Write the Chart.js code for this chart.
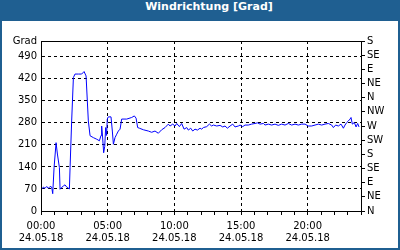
<!DOCTYPE html>
<html lang="de">
<head>
<meta charset="UTF-8">
<title>Windrichtung</title>
<script src="https://cdn.jsdelivr.net/npm/chart.js"></script>
<style>
    html, body { margin: 0; padding: 0; background: #fff; }
    .frame {
        position: relative;
        width: 400px;
        height: 250px;
        background: #1f5f91;
        box-sizing: border-box;
    }
    .title {
        height: 21px;
        line-height: 20px;
        color: #fff;
        font: bold 11px "DejaVu Sans", sans-serif;
        text-align: center;
        padding-left: 18px;
        box-sizing: border-box;
    }
    .panel {
        position: absolute;
        left: 2px;
        top: 21px;
        width: 396px;
        height: 227px;
        background: #fff;
    }
</style>
</head>
<body>
<div class="frame">
    <div class="title">Windrichtung [Grad]</div>
    <div class="panel"><canvas id="chart" width="396" height="227"></canvas></div>
</div>
<script>
    // Stunden seit 00:00 am 24.05.18
    const times = [0.05, 0.18, 0.3, 0.43, 0.55, 0.68, 0.8, 0.88, 0.98, 1.13, 1.23, 1.38, 1.43, 1.68, 1.8, 1.93,
        2.13, 2.18, 2.3, 2.43, 2.55, 2.8, 3.05, 3.23, 3.38, 3.55, 3.68, 3.93, 4.18, 4.38, 4.5, 4.55, 4.62, 4.7,
        4.78, 4.85, 4.92, 4.97, 5.05, 5.25, 5.35, 5.43, 5.55, 5.68, 5.8, 5.93, 6.05, 6.43, 6.8, 7.0, 7.13, 7.25,
        7.38, 7.68, 8.05, 8.3, 8.55, 8.8, 9.05, 9.3, 9.55, 9.68, 9.88, 10.05, 10.18, 10.38, 10.55, 10.73, 10.93,
        11.05, 11.23, 11.38, 11.55, 11.73, 11.93, 12.05, 12.18, 12.43, 12.63, 12.8, 12.93, 13.18, 13.43, 13.63,
        13.8, 13.98, 14.18, 14.38, 14.55, 14.8, 14.93, 15.13, 15.3, 15.55, 15.8, 16.05, 16.23, 16.43, 16.68, 16.8,
        17.05, 17.3, 17.55, 17.8, 18.05, 18.3, 18.55, 18.8, 19.05, 19.3, 19.55, 19.8, 20.05, 20.3, 20.55, 20.8,
        21.05, 21.3, 21.55, 21.8, 21.93, 22.1, 22.3, 22.5, 22.68, 22.8, 22.93, 23.05, 23.18, 23.25, 23.35, 23.5,
        23.63, 23.75, 23.85];
    const windDir = [69, 76, 72, 78, 72, 78, 76, 55, 138, 217, 181, 138, 69, 80, 83, 76,
        70, 138, 286, 424, 435, 435, 435, 443, 429, 286, 239, 233, 228, 223, 240, 270, 235, 185,
        205, 265, 240, 292, 299, 299, 254, 212, 233, 244, 254, 260, 292, 292, 297, 302, 295, 265,
        263, 258, 254, 250, 254, 247, 258, 265, 276, 270, 276, 270, 278, 268, 278, 260, 265,
        257, 263, 254, 260, 257, 263, 260, 265, 268, 276, 270, 273, 270, 272, 267,
        270, 263, 270, 276, 267, 270, 273, 268, 273, 273, 276, 278, 280, 276, 278, 273,
        276, 273, 276, 272, 276, 273, 278, 273, 276, 273, 276, 276, 270, 270, 273, 276,
        273, 276, 278, 273, 265, 273, 270, 276, 263, 273, 281, 286, 292, 297, 276, 281,
        267, 278, 267];

    const timeLabels = ['00:00', '05:00', '10:00', '15:00', '20:00'];
    const dateLabel = '24.05.18';
    const degTicks = [0, 70, 140, 210, 280, 350, 420, 490];
    const dirLabels = ['N', 'NE', 'E', 'SE', 'S', 'SW', 'W', 'NW', 'N', 'NE', 'E', 'SE', 'S'];

    const font = { family: 'DejaVu Sans', size: 10 };

    // schwarzer Rahmen um den Plotbereich
    const framePlugin = {
        id: 'frame',
        afterDraw(chart) {
            const a = chart.chartArea;
            const c = chart.ctx;
            c.save();
            c.strokeStyle = '#000';
            c.lineWidth = 1;
            c.strokeRect(Math.round(a.left) + 0.5, Math.round(a.top) + 0.5,
                Math.round(a.right - a.left), Math.round(a.bottom - a.top));
            c.restore();
        }
    };

    new Chart(document.getElementById('chart'), {
        type: 'line',
        data: {
            datasets: [{
                data: times.map((t, i) => ({ x: t, y: windDir[i] })),
                borderColor: '#0000ff',
                borderWidth: 1,
                pointRadius: 0,
                tension: 0,
                yAxisID: 'y'
            }]
        },
        options: {
            responsive: false,
            animation: false,
            devicePixelRatio: 1,
            layout: { padding: { top: 20, left: 0, right: 0, bottom: 0 } },
            plugins: { legend: { display: false }, tooltip: { enabled: false } },
            scales: {
                x: {
                    type: 'linear',
                    min: 0,
                    max: 24,
                    afterBuildTicks: s => { s.ticks = Array.from({ length: 25 }, (_, h) => ({ value: h })); },
                    afterFit: s => { s.height = 37; },
                    ticks: {
                        autoSkip: false,
                        maxRotation: 0,
                        color: '#000',
                        font: font,
                        padding: 5,
                        callback: v => (v % 5 === 0 && v < 24) ? [timeLabels[v / 5], dateLabel] : ''
                    },
                    grid: {
                        color: c => (c.tick && c.tick.value % 5 === 0 && c.tick.value > 0 && c.tick.value < 24) ? '#000' : 'rgba(0,0,0,0)',
                        tickColor: '#000',
                        tickLength: 4
                    },
                    border: { display: true, color: '#000', dash: [3, 3] }
                },
                y: {
                    position: 'left',
                    min: 0,
                    max: 540,
                    afterBuildTicks: s => { s.ticks = degTicks.concat([540]).map(v => ({ value: v })); },
                    afterFit: s => { s.width = 39; },
                    ticks: {
                        autoSkip: false,
                        color: '#000',
                        font: font,
                        padding: 4,
                        callback: v => v === 540 ? 'Grad' : String(v)
                    },
                    grid: {
                        drawTicks: false,
                        color: c => (c.tick && c.tick.value > 0 && c.tick.value < 540) ? '#000' : 'rgba(0,0,0,0)'
                    },
                    border: { display: true, color: '#000', dash: [3, 3] }
                },
                y2: {
                    position: 'right',
                    min: 0,
                    max: 12,
                    afterBuildTicks: s => { s.ticks = dirLabels.map((_, i) => ({ value: i })); },
                    afterFit: s => { s.width = 37; },
                    ticks: {
                        autoSkip: false,
                        color: '#000',
                        font: font,
                        padding: 2,
                        callback: v => dirLabels[v]
                    },
                    grid: { drawOnChartArea: false, color: '#000', tickColor: '#000', tickLength: 4 },
                    border: { display: true, color: '#000' }
                }
            }
        },
        plugins: [framePlugin]
    });
</script>
</body>
</html>
